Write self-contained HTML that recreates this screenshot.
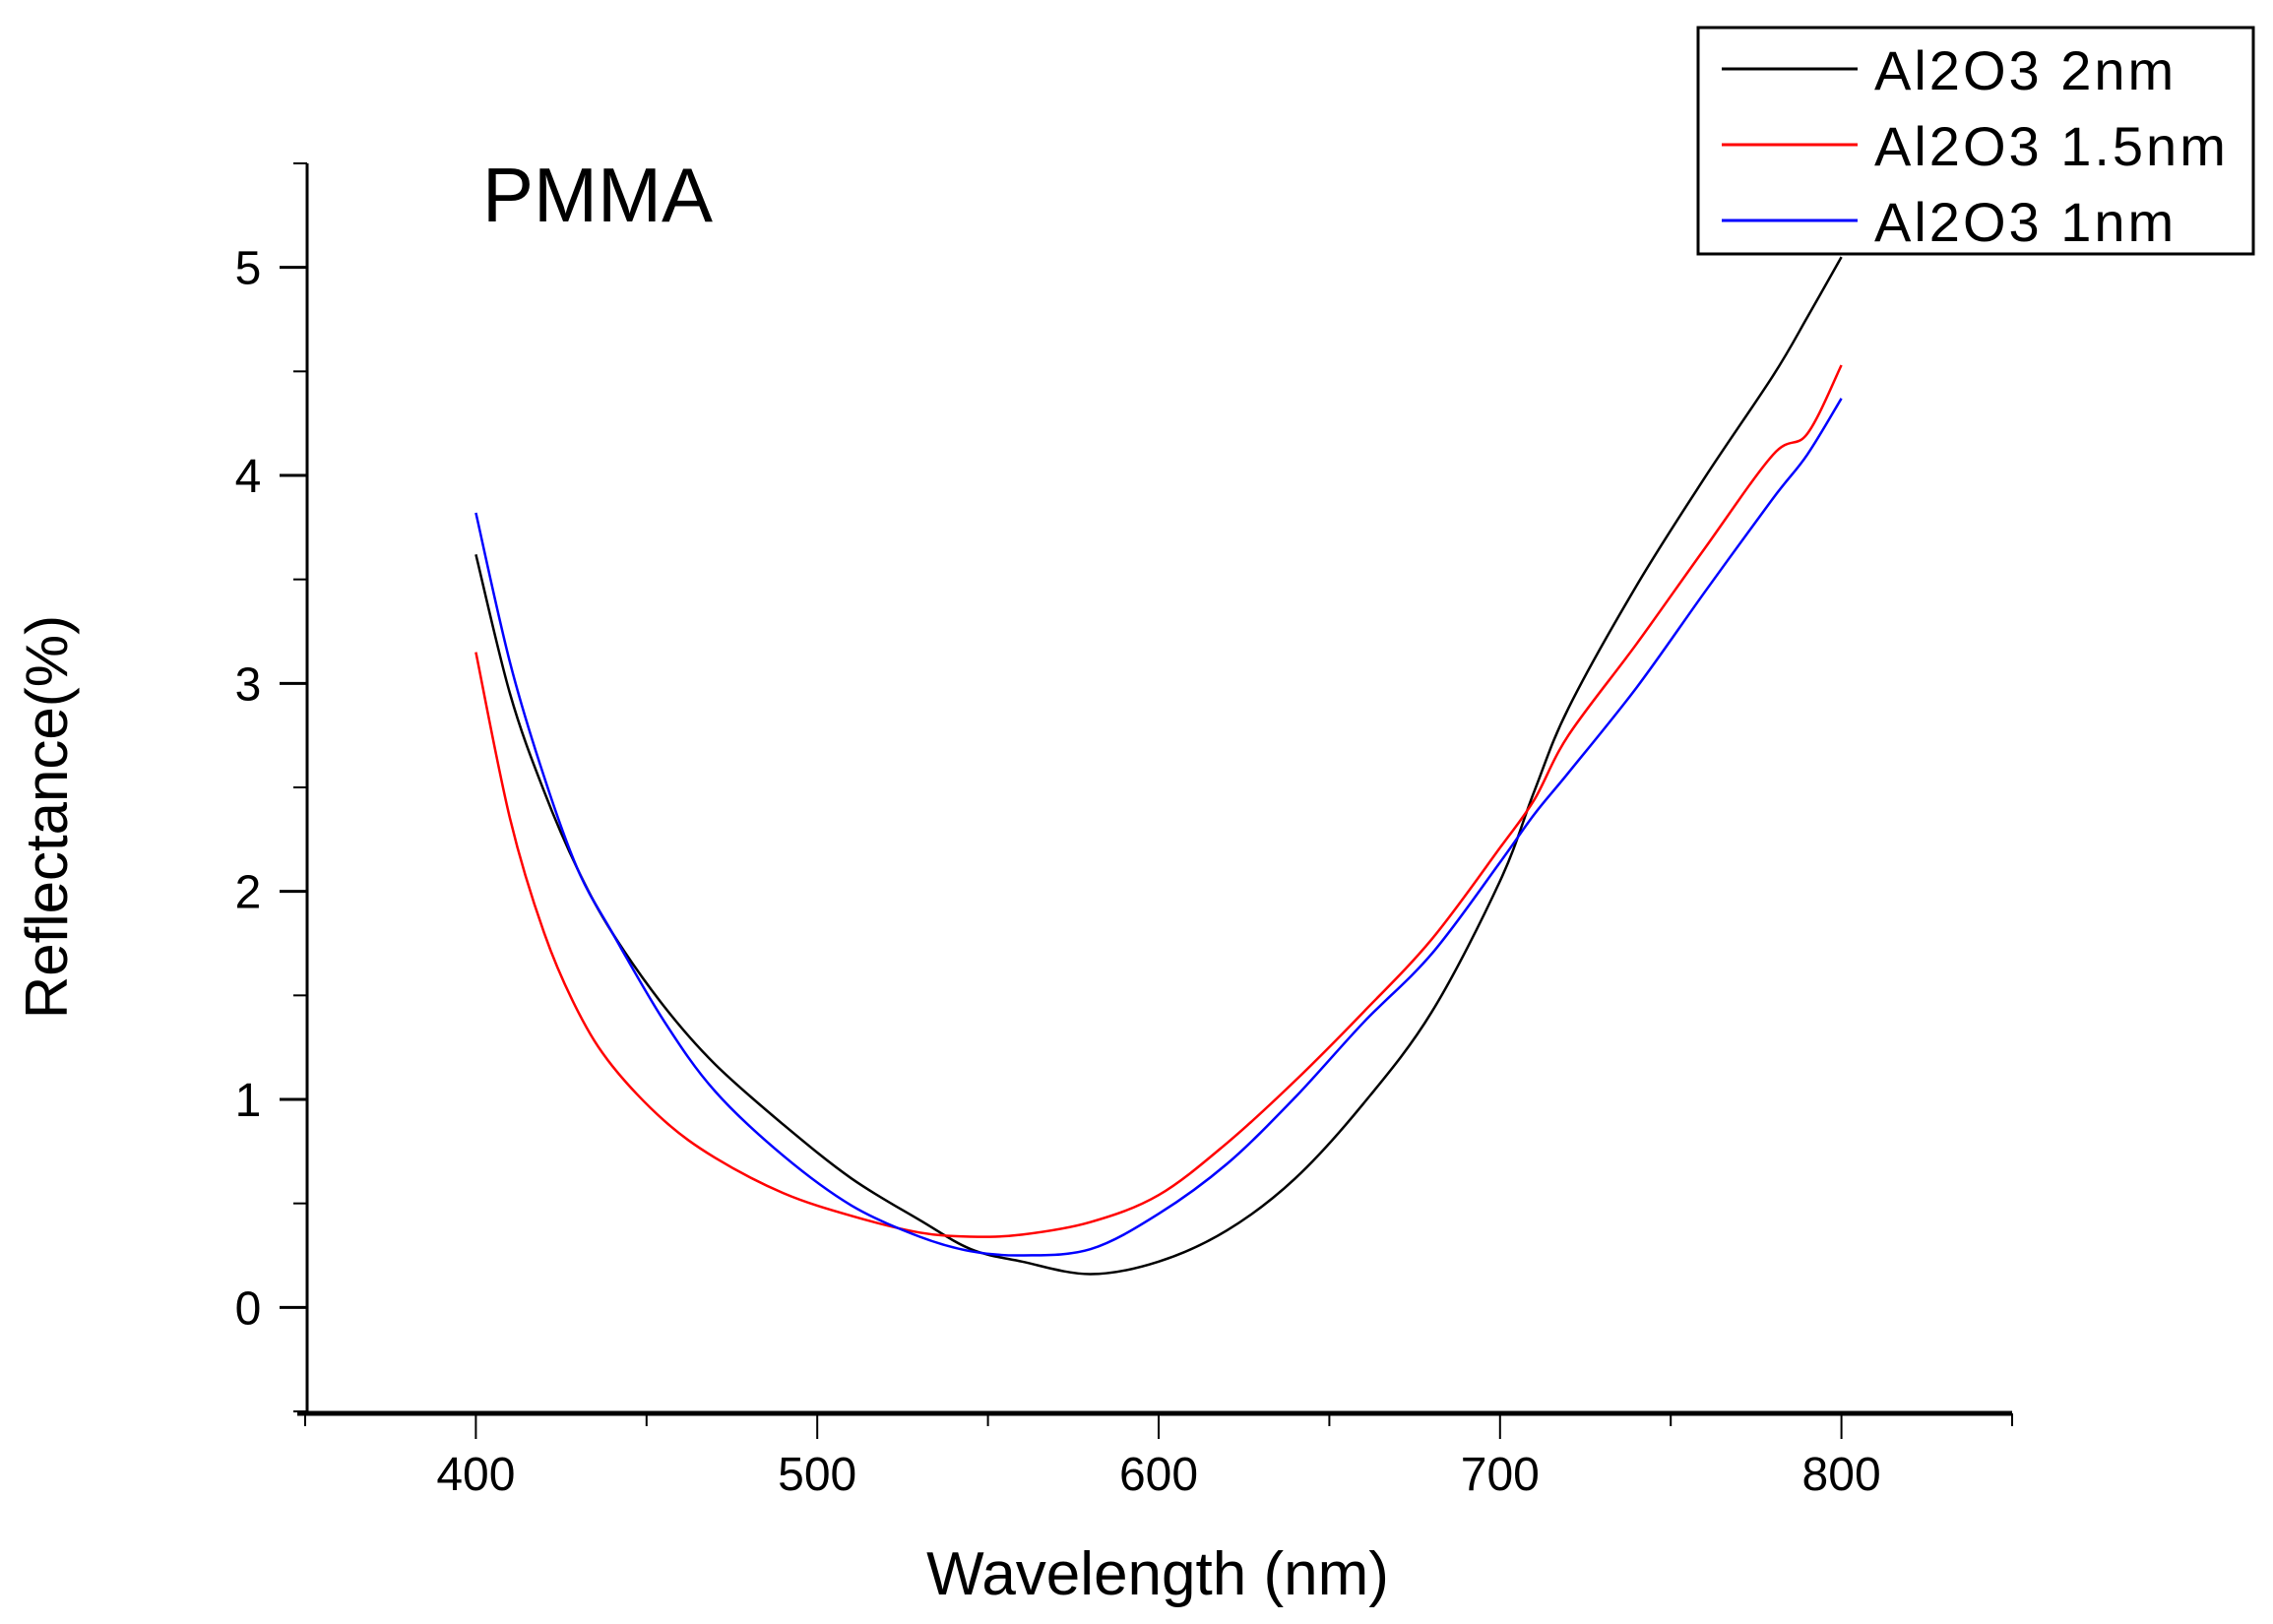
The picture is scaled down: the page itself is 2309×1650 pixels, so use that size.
<!DOCTYPE html>
<html><head><meta charset="utf-8"><style>
html,body{margin:0;padding:0;background:#fff;}
svg{display:block;font-family:"Liberation Sans",sans-serif;}
</style></head><body>
<svg id="chart" width="2309" height="1650" viewBox="0 0 2309 1650" xmlns="http://www.w3.org/2000/svg">
<rect width="2309" height="1650" fill="#fff"/>
<g id="axes"></g>
<g id="series"></g>
<text x="490" y="225" font-size="78" fill="#000">PMMA</text>
<text x="1176" y="1620" font-size="62" text-anchor="middle" fill="#000">Wavelength (nm)</text>
<text transform="translate(68,830) rotate(-90)" font-size="60" text-anchor="middle" fill="#000">Reflectance(%)</text>
<g id="legend">
<rect x="1725" y="28" width="564" height="230" fill="#fff" stroke="#000" stroke-width="3"/>
</g>
</svg>
<script>
const wavelengths = [400,410,420,430,440,455,470,490,510,530,545,560,580,600,620,640,660,680,700,710,720,740,760,780,790,800];
const black2nm = [3.62,2.95,2.48,2.10,1.80,1.45,1.17,0.88,0.62,0.42,0.28,0.22,0.16,0.22,0.37,0.62,0.98,1.42,2.05,2.48,2.88,3.47,3.99,4.48,4.76,5.05];
const red15nm = [3.15,2.35,1.80,1.42,1.16,0.90,0.72,0.55,0.44,0.36,0.34,0.35,0.41,0.54,0.79,1.09,1.42,1.77,2.21,2.44,2.75,3.19,3.65,4.10,4.20,4.53];
const blue1nm = [3.82,3.10,2.55,2.10,1.80,1.38,1.04,0.73,0.49,0.34,0.27,0.25,0.28,0.45,0.69,1.01,1.37,1.70,2.14,2.37,2.57,2.98,3.44,3.89,4.10,4.37];
const seriesNames = ["Al2O3 2nm","Al2O3 1.5nm","Al2O3 1nm"];
const seriesColors = ["#000000","#ff0000","#0000ff"];
const xMajorTicks = [400,500,600,700,800];
const xMinorTicks = [350,450,550,650,750,850];
const yMajorTicks = [0,1,2,3,4,5];
const yMinorTicks = [-0.5,0.5,1.5,2.5,3.5,4.5,5.5];

const NS="http://www.w3.org/2000/svg";
const X0=310, X1=2044, XMIN=350, XMAX=850;
const Y0=1434, Y1=166, YMIN=-0.5, YMAX=5.5;
function sx(v){return X0+(v-XMIN)/(XMAX-XMIN)*(X1-X0);}
function sy(v){return Y0+(v-YMIN)/(YMAX-YMIN)*(Y1-Y0);}
function mk(tag,attrs,parent){const e=document.createElementNS(NS,tag);for(const k in attrs)e.setAttribute(k,attrs[k]);parent.appendChild(e);return e;}

const axes=document.getElementById('axes');
let l=mk('line',{x1:312,y1:166,x2:312,y2:1436,stroke:'#000','stroke-width':3},axes);


l=mk('line',{x1:302,y1:1436,x2:2044,y2:1436,stroke:'#000','stroke-width':5},axes);


xMajorTicks.forEach(v=>{
  const t=mk('line',{x1:sx(v),y1:1436,x2:sx(v),y2:1462,stroke:'#000','stroke-width':2},axes);
  
  
  const tx=mk('text',{x:sx(v),y:1514,'font-size':48,'text-anchor':'middle',fill:'#000'},axes);
  tx.textContent=v;
  
  
});
xMinorTicks.forEach(v=>{
  const t=mk('line',{x1:sx(v),y1:1436,x2:sx(v),y2:1449,stroke:'#000','stroke-width':2},axes);
  
  
});
yMajorTicks.forEach(v=>{
  const t=mk('line',{x1:284,y1:sy(v),x2:312,y2:sy(v),stroke:'#000','stroke-width':3},axes);
  
  
  const tx=mk('text',{x:252,y:sy(v)+17,'font-size':48,'text-anchor':'middle',fill:'#000'},axes);
  tx.textContent=v;
  
  
});
yMinorTicks.forEach(v=>{
  const t=mk('line',{x1:298,y1:sy(v),x2:312,y2:sy(v),stroke:'#000','stroke-width':2},axes);
  
  
});

function pathFor(vals){
  const p=wavelengths.map((w,i)=>[sx(w),sy(vals[i])]);
  let d='M'+p[0][0].toFixed(1)+','+p[0][1].toFixed(1);
  for(let i=0;i<p.length-1;i++){
    const p0=p[i-1]||p[i],p1=p[i],p2=p[i+1],p3=p[i+2]||p[i+1];
    const c1=[p1[0]+(p2[0]-p0[0])/6,p1[1]+(p2[1]-p0[1])/6];
    const c2=[p2[0]-(p3[0]-p1[0])/6,p2[1]-(p3[1]-p1[1])/6];
    d+=' C'+c1[0].toFixed(1)+','+c1[1].toFixed(1)+' '+c2[0].toFixed(1)+','+c2[1].toFixed(1)+' '+p2[0].toFixed(1)+','+p2[1].toFixed(1);
  }
  return d;
}
const sg=document.getElementById('series');
const allSeries=[black2nm,red15nm,blue1nm];
const seriesKeys=['series-2nm','series-1-5nm','series-1nm'];
allSeries.forEach((vals,i)=>{
  const pth=mk('path',{d:pathFor(vals),fill:'none',stroke:seriesColors[i],'stroke-width':2.5},sg);
  
  
});

const lg=document.getElementById('legend');
const rowY=[70,147,224];
seriesNames.forEach((n,i)=>{
  const ln=mk('line',{x1:1749,y1:rowY[i],x2:1887,y2:rowY[i],stroke:seriesColors[i],'stroke-width':3},lg);
  
  
  const tx=mk('text',{x:1904,y:rowY[i]+21,'font-size':56,'letter-spacing':3,fill:'#000'},lg);
  tx.textContent=n;
  
  
});
</script>
</body></html>
